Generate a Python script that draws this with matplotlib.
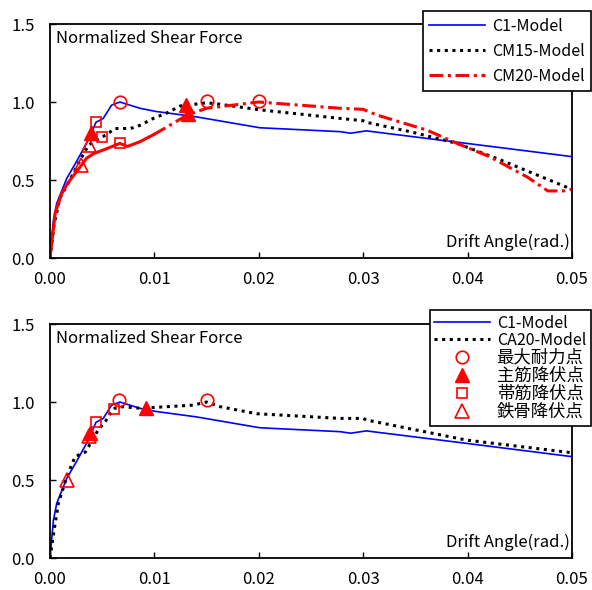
import matplotlib
matplotlib.use("Agg")
import matplotlib.pyplot as plt

plt.rcParams['font.family'] = ['Noto Sans CJK JP', 'DejaVu Sans']

# C1 model (shared by both panels)
c1_x = [0.0, 0.00032, 0.00064, 0.0016, 0.00255, 0.0037, 0.0044, 0.0051, 0.0059, 0.0067,
        0.0086, 0.0101, 0.014, 0.0201, 0.0278, 0.0288, 0.0303, 0.0393, 0.05]
c1_y = [0.0, 0.24, 0.35, 0.51, 0.62, 0.76, 0.87, 0.895, 0.98, 1.0,
        0.96, 0.94, 0.905, 0.835, 0.81, 0.80, 0.815, 0.74, 0.65]

# CM15 model
cm15_x = [0.0, 0.0004, 0.00096, 0.0019, 0.0029, 0.0037, 0.005, 0.0056, 0.0062, 0.0077,
          0.0086, 0.0099, 0.0112, 0.0125, 0.015, 0.0158, 0.0201, 0.0278, 0.030, 0.0303,
          0.0345, 0.039, 0.0431, 0.0482, 0.05]
cm15_y = [0.0, 0.22, 0.385, 0.50, 0.63, 0.725, 0.775, 0.80, 0.83, 0.83,
          0.85, 0.895, 0.93, 0.975, 0.995, 0.99, 0.95, 0.895, 0.88, 0.87,
          0.81, 0.735, 0.63, 0.49, 0.44]

# CM20 model
cm20_x = [0.0, 0.0005, 0.0011, 0.0017, 0.0029, 0.0035, 0.0042, 0.0054, 0.0067, 0.0074,
          0.0086, 0.0099, 0.0112, 0.0131, 0.015, 0.02, 0.0278, 0.030, 0.0313, 0.0361,
          0.039, 0.0421, 0.0457, 0.0477, 0.0492, 0.05]
cm20_y = [0.0, 0.29, 0.41, 0.48, 0.585, 0.64, 0.67, 0.70, 0.735, 0.715,
          0.745, 0.79, 0.84, 0.915, 0.96, 1.0, 0.96, 0.953, 0.917, 0.82,
          0.735, 0.65, 0.52, 0.43, 0.43, 0.44]

# CA20 model
ca20_x = [0.0, 0.0003, 0.0008, 0.0016, 0.0024, 0.0034, 0.0046, 0.0053, 0.0059, 0.0062,
          0.007, 0.0086, 0.0137, 0.015, 0.0163, 0.0198, 0.0278, 0.030, 0.0303, 0.0399, 0.05]
ca20_y = [0.0, 0.14, 0.35, 0.52, 0.65, 0.68, 0.82, 0.875, 0.94, 0.96,
          0.97, 0.96, 0.98, 1.0, 0.97, 0.925, 0.895, 0.895, 0.885, 0.756, 0.675]

# event points, top panel
top_max_x = [0.0067, 0.015, 0.02]
top_max_y = [1.0, 1.005, 1.005]
top_main_x = [0.0039, 0.0130, 0.0132]
top_main_y = [0.80, 0.98, 0.92]
top_hoop_x = [0.0044, 0.0050, 0.0067]
top_hoop_y = [0.875, 0.775, 0.74]
top_steel_x = [0.0037, 0.0030]
top_steel_y = [0.725, 0.595]

# event points, bottom panel
bot_max_x = [0.0066, 0.015]
bot_max_y = [1.01, 1.01]
bot_main_x = [0.0038, 0.0092]
bot_main_y = [0.80, 0.96]
bot_hoop_x = [0.0044, 0.0061]
bot_hoop_y = [0.875, 0.955]
bot_steel_x = [0.0016, 0.0037]
bot_steel_y = [0.50, 0.78]

x_ticks = [0.0, 0.01, 0.02, 0.03, 0.04, 0.05]
y_ticks = [0.0, 0.5, 1.0, 1.5]
marker_labels = ['最大耐力点', '主筋降伏点', '帯筋降伏点', '鉄骨降伏点']

fig = plt.figure(figsize=(5.92, 5.90), dpi=100)
ax1 = fig.add_axes([0.0845, 0.5627, 0.8815, 0.3966])
ax2 = fig.add_axes([0.0845, 0.0542, 0.8815, 0.3966])

dot_style = (0, (1, 1.5))
dashdot = (0, (4.5, 1.5, 1, 1.5))


def draw_markers(ax, mx, my, tx, ty, hx, hy, sx, sy, with_label):
    labels = marker_labels if with_label else [None] * 4
    ax.plot(mx, my, 'o', ms=9, mfc='none', mec='red', mew=1.2, label=labels[0], zorder=5)
    ax.plot(tx, ty, '^', ms=10, mfc='red', mec='red', label=labels[1], zorder=5)
    ax.plot(hx, hy, 's', ms=6.5, mfc='none', mec='red', mew=1.2, label=labels[2], zorder=5)
    ax.plot(sx, sy, '^', ms=10, mfc='none', mec='red', mew=1.2, label=labels[3], zorder=5)


def style_axes(ax):
    ax.set_xlim(0, 0.05)
    ax.set_ylim(0, 1.5)
    ax.set_xticks(x_ticks)
    ax.set_xticklabels([f'{v:.2f}' for v in x_ticks], fontsize=12)
    ax.set_yticks(y_ticks)
    ax.set_yticklabels([f'{v:.1f}' for v in y_ticks], fontsize=12)
    ax.tick_params(direction='in', length=4, width=1)
    ax.tick_params(axis='x', pad=9)
    ax.tick_params(axis='y', pad=11)
    for s in ax.spines.values():
        s.set_linewidth(1.3)
    ax.text(0.012, 0.94, 'Normalized Shear Force', transform=ax.transAxes,
            fontsize=12, ha='left', va='center')
    ax.text(0.997, 0.065, 'Drift Angle(rad.)', transform=ax.transAxes,
            fontsize=12, ha='right', va='center')


# top panel
ax1.plot(c1_x, c1_y, color='blue', lw=1.2, label='C1-Model')
ax1.plot(cm15_x, cm15_y, color='black', lw=2.2, ls=dot_style, label='CM15-Model')
split = 12
ax1.plot(cm20_x[:split], cm20_y[:split], color='red', lw=2.2, ls='-')
ax1.plot(cm20_x[split - 1:], cm20_y[split - 1:], color='red', lw=2.2, ls=dashdot)
ax1.plot([], [], color='red', lw=2.2, ls=dashdot, label='CM20-Model')
draw_markers(ax1, top_max_x, top_max_y, top_main_x, top_main_y,
             top_hoop_x, top_hoop_y, top_steel_x, top_steel_y, False)
style_axes(ax1)
leg1 = ax1.legend(loc='upper right', bbox_to_anchor=(0.998, 0.981),
                  bbox_transform=fig.transFigure, fontsize=11.5, handlelength=3.5,
                  labelspacing=0.5, fancybox=False, edgecolor='black', framealpha=1,
                  borderaxespad=0, borderpad=0.4, handletextpad=0.4)
leg1.get_frame().set_linewidth(1.2)

# bottom panel
ax2.plot(c1_x, c1_y, color='blue', lw=1.2, label='C1-Model')
ax2.plot(ca20_x, ca20_y, color='black', lw=2.2, ls=dot_style, label='CA20-Model')
draw_markers(ax2, bot_max_x, bot_max_y, bot_main_x, bot_main_y,
             bot_hoop_x, bot_hoop_y, bot_steel_x, bot_steel_y, True)
style_axes(ax2)
leg2 = ax2.legend(loc='upper right', bbox_to_anchor=(0.998, 0.4746),
                  bbox_transform=fig.transFigure, fontsize=11.5, handlelength=3.5,
                  labelspacing=0.0, fancybox=False, edgecolor='black', framealpha=1,
                  borderaxespad=0, borderpad=0.3, handletextpad=0.4)
leg2.get_frame().set_linewidth(1.2)
for t in leg2.get_texts()[2:]:
    t.set_fontsize(12.5)

fig.savefig('out.png', dpi=100)
